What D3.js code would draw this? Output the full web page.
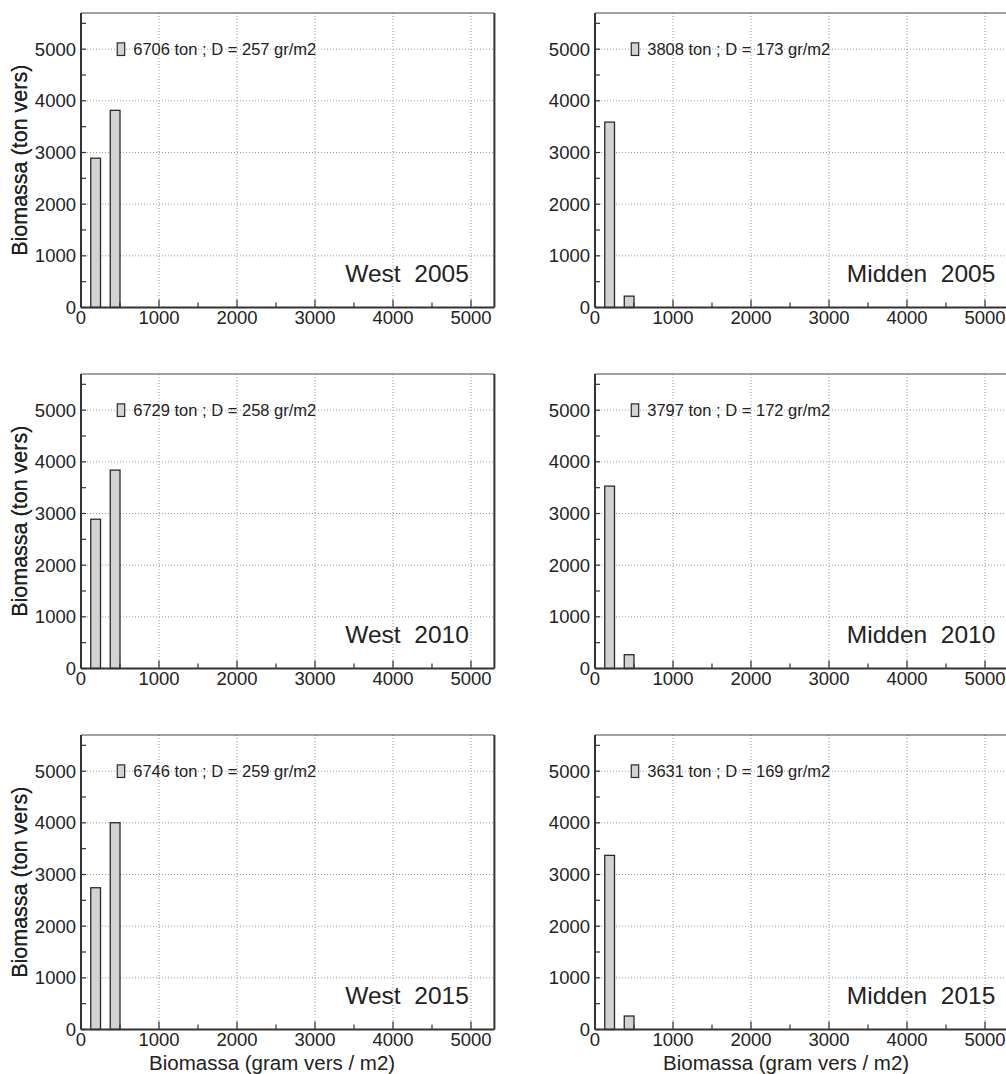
<!DOCTYPE html>
<html>
<head>
<meta charset="utf-8">
<script src="https://cdn.jsdelivr.net/npm/d3@7"></script>
<style>
  html, body { margin: 0; padding: 0; background: #fff; }
  svg { display: block; font-family: "Liberation Sans", Arial, Helvetica, sans-serif; }
</style>
</head>
<body>
<svg id="chart" width="1006" height="1074"></svg>
<script>
// ---- data ----
const regions = ["West", "Midden"];
const years = [2005, 2010, 2015];
const binStarts = [125, 375];          // bin left edges (gram vers / m2)
const binWidth = 125;
const westValues = [[2890, 3816], [2889, 3840], [2744, 4002]];
const middenValues = [[3588, 220], [3530, 267], [3370, 261]];
const westTotals = [6706, 6729, 6746];
const middenTotals = [3808, 3797, 3631];
const westDensity = [257, 258, 259];
const middenDensity = [173, 172, 169];
const xTicks = [0, 1000, 2000, 3000, 4000, 5000];
const yTicks = [0, 1000, 2000, 3000, 4000, 5000];
const xMinorTicks = d3.range(0, 5301, 500);
const yMinorTicks = d3.range(0, 5701, 500);
const yLabel = "Biomassa (ton vers)";
const xLabel = "Biomassa (gram vers / m2)";

// ---- layout ----
const svg = d3.select("#chart");
const colX = [81, 595];
const rowY = [13, 374, 735];
const pw = 413.4, ph = 294.5;
const xDomain = [0, 5300], yDomain = [0, 5700];

function panel(ci, ri) {
  const values = ci === 0 ? westValues[ri] : middenValues[ri];
  const total = ci === 0 ? westTotals[ri] : middenTotals[ri];
  const dens = ci === 0 ? westDensity[ri] : middenDensity[ri];
  const title = regions[ci] + "  " + years[ri];

  const g = svg.append("g").attr("transform", `translate(${colX[ci]},${rowY[ri]})`);
  const x = d3.scaleLinear().domain(xDomain).range([0, pw]);
  const y = d3.scaleLinear().domain(yDomain).range([ph, 0]);

  // grid
  g.append("g").selectAll("line.gx").data(xTicks.filter(d => d > 0)).join("line")
    .attr("x1", d => x(d)).attr("x2", d => x(d)).attr("y1", 0).attr("y2", ph)
    .attr("stroke", "#9a9a9a").attr("stroke-width", 1).attr("stroke-dasharray", "1,2");
  g.append("g").selectAll("line.gy").data(yTicks.filter(d => d > 0)).join("line")
    .attr("x1", 0).attr("x2", pw).attr("y1", d => y(d)).attr("y2", d => y(d))
    .attr("stroke", "#9a9a9a").attr("stroke-width", 1).attr("stroke-dasharray", "1,2");

  // bars
  g.append("g").selectAll("rect").data(values).join("rect")
    .attr("x", (d, i) => x(binStarts[i]))
    .attr("width", (d, i) => x(binStarts[i] + binWidth) - x(binStarts[i]))
    .attr("y", d => y(d))
    .attr("height", d => y(0) - y(d))
    .attr("fill", "#d3d3d3").attr("stroke", "#2a2a2a").attr("stroke-width", 1.3);

  // frame
  g.append("line").attr("x1", 0).attr("x2", pw).attr("y1", 0).attr("y2", 0)
    .attr("stroke", "#444").attr("stroke-width", 1);
  g.append("line").attr("x1", pw).attr("x2", pw).attr("y1", 0).attr("y2", ph)
    .attr("stroke", "#333").attr("stroke-width", 2);

  // minor/major ticks (inward)
  g.append("g").selectAll("line").data(xMinorTicks).join("line")
    .attr("x1", d => x(d)).attr("x2", d => x(d))
    .attr("y1", ph).attr("y2", d => ph - (d % 1000 === 0 ? 8 : 5))
    .attr("stroke", "#333").attr("stroke-width", 1.2);
  g.append("g").selectAll("line").data(yMinorTicks).join("line")
    .attr("y1", d => y(d)).attr("y2", d => y(d))
    .attr("x1", 0).attr("x2", 5)
    .attr("stroke", "#333").attr("stroke-width", 1.2);

  // axes lines
  g.append("line").attr("x1", 0).attr("x2", pw).attr("y1", ph).attr("y2", ph)
    .attr("stroke", "#333").attr("stroke-width", 2);
  g.append("line").attr("x1", 0).attr("x2", 0).attr("y1", 0).attr("y2", ph)
    .attr("stroke", "#333").attr("stroke-width", 2);

  // tick labels
  g.append("g").selectAll("text").data(xTicks).join("text")
    .attr("x", d => x(d)).attr("y", ph + 16.5)
    .attr("text-anchor", "middle").attr("font-size", 18.5).attr("fill", "#222")
    .text(d => d);
  g.append("g").selectAll("text").data(yTicks).join("text")
    .attr("x", -5).attr("y", d => y(d) + 6.5)
    .attr("text-anchor", "end").attr("font-size", 18.5).attr("fill", "#222")
    .text(d => d);

  // y label
  g.append("text")
    .attr("transform", `translate(${-colX[ci] + 27},${ph / 2}) rotate(-90)`)
    .attr("text-anchor", "middle").attr("font-size", 21.5).attr("fill", "#222")
    .text(yLabel);

  // legend
  const ly = y(5000);
  g.append("rect").attr("x", x(465)).attr("y", ly - 6.3).attr("width", 7.4).attr("height", 12.6)
    .attr("fill", "#d3d3d3").attr("stroke", "#2a2a2a").attr("stroke-width", 1.2);
  g.append("text").attr("x", x(670)).attr("y", ly + 5.4)
    .attr("font-size", 16.5).attr("fill", "#222")
    .text(`${total} ton ; D = ${dens} gr/m2`);

  // panel title
  g.append("text").attr("x", x(4180)).attr("y", y(494))
    .attr("text-anchor", "middle").attr("font-size", 24.5).attr("fill", "#222")
    .style("white-space", "pre")
    .text(title);

  // x label on bottom row
  if (ri === 2) {
    g.append("text").attr("x", x(2450)).attr("y", ph + 40)
      .attr("text-anchor", "middle").attr("font-size", 20.5).attr("fill", "#222")
      .text(xLabel);
  }
}

for (let ri = 0; ri < 3; ri++) for (let ci = 0; ci < 2; ci++) panel(ci, ri);
</script>
</body>
</html>
